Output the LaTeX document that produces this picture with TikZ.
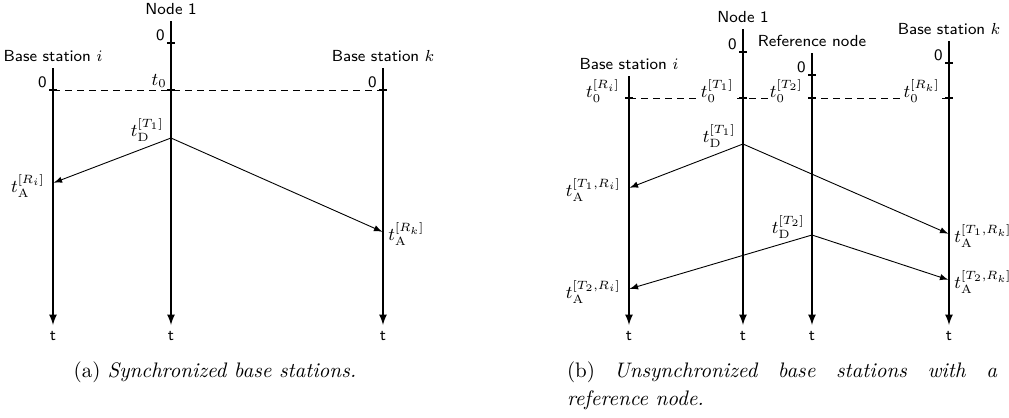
\documentclass[tikz,border=0pt]{standalone}
\usepackage{amsmath}
\usetikzlibrary{arrows,positioning,calc}
\tikzset{
    axis/.style={-latex,line width=0.8pt},
    msg/.style={-latex,line width=0.45pt,shorten >=0.4pt},
    sync/.style={line width=0.5pt,dash pattern=on 3.5pt off 2.5pt},
    tickmark/.style={line width=0.6pt},
    lbl/.style={font=\sffamily\footnotesize,inner sep=1pt},
    mlbl/.style={font=\small,inner sep=1pt},
    synclbl/.style={mlbl,fill=white},
    captxt/.style={font=\fontsize{10.5}{14}\selectfont,inner sep=0pt},
}
\begin{document}
\begin{tikzpicture}[x=0.5pt,y=-0.5pt]
\useasboundingbox (0,0) rectangle (1009,418);

% ---- (a) synchronized base stations
\coordinate (ai) at (53,68);
\coordinate (an) at (171,21);
\coordinate (ak) at (383,68);
\coordinate (ai end) at (53,325);
\coordinate (an end) at (171,325);
\coordinate (ak end) at (383,325);
\coordinate (an zero) at (171,43);
\coordinate (ai sync) at (53,90);
\coordinate (an sync) at (171,90);
\coordinate (ak sync) at (383,90);
\coordinate (ad1) at (171,138);
\coordinate (aai) at (53,183);
\coordinate (aak) at (383,232);

\node[lbl,above=2pt of ai] (ai name) {Base station $i$};
\node[lbl,above=2pt of an] (an name) {Node 1};
\node[lbl,above=2pt of ak] (ak name) {Base station $k$};
\draw[axis] (ai) -- (ai end);
\draw[axis] (an) -- (an end);
\draw[axis] (ak) -- (ak end);
\node[lbl,below=2pt of ai end] (ai t) {t};
\node[lbl,below=2pt of an end] (an t) {t};
\node[lbl,below=2pt of ak end] (ak t) {t};

\draw[sync] (ai sync) -- (ak sync);
\foreach \c in {an zero,ai sync,an sync,ak sync}
    \draw[tickmark] ($(\c)+(-4,0)$) -- ($(\c)+(4,0)$);
\node[lbl,above left=0pt and 2pt of an zero] (an 0) {0};
\node[lbl,above left=0pt and 2pt of ai sync] (ai 0) {0};
\node[lbl,above left=0pt and 2pt of ak sync] (ak 0) {0};
\node[mlbl,above left=0pt and 1pt of an sync] (an t0) {$t_0$};

\draw[msg] (ad1) -- (aai);
\draw[msg] (ad1) -- (aak);
\node[mlbl,left=2.5pt of ad1,yshift=4pt] (ad1 lbl) {$t_{\mathrm{D}}^{[T_1]}$};
\node[mlbl,left=3pt of aai,yshift=-1.5pt] (aai lbl) {$t_{\mathrm{A}}^{[R_i]}$};
\node[mlbl,right=1.5pt of aak,yshift=-1pt] (aak lbl) {$t_{\mathrm{A}}^{[R_k]}$};

\node[captxt] (cap a) at (215,372) {(a) \textit{Synchronized base stations.}};

% ---- (b) unsynchronized base stations, reference node
\coordinate (bi) at (629,76);
\coordinate (bn) at (743,29);
\coordinate (br) at (812,53);
\coordinate (bk) at (949,41);
\coordinate (bi end) at (629,325);
\coordinate (bn end) at (743,325);
\coordinate (br end) at (812,325);
\coordinate (bk end) at (949,325);
\coordinate (bn zero) at (743,52);
\coordinate (br zero) at (812,75);
\coordinate (bk zero) at (949,63);
\coordinate (bi sync) at (629,98);
\coordinate (bn sync) at (743,98);
\coordinate (br sync) at (812,98);
\coordinate (bk sync) at (949,98);
\coordinate (bd1) at (743,144);
\coordinate (bd2) at (812,235);
\coordinate (b1i) at (629,188);
\coordinate (b1k) at (949,234);
\coordinate (b2i) at (629,289);
\coordinate (b2k) at (949,280);

\node[lbl,above=2pt of bi] (bi name) {Base station $i$};
\node[lbl,above=2pt of bn] (bn name) {Node 1};
\node[lbl,above=2pt of br] (br name) {Reference node};
\node[lbl,above=2pt of bk] (bk name) {Base station $k$};
\draw[axis] (bi) -- (bi end);
\draw[axis] (bn) -- (bn end);
\draw[axis] (br) -- (br end);
\draw[axis] (bk) -- (bk end);
\node[lbl,below=2pt of bi end] (bi t) {t};
\node[lbl,below=2pt of bn end] (bn t) {t};
\node[lbl,below=2pt of br end] (br t) {t};
\node[lbl,below=2pt of bk end] (bk t) {t};

\draw[sync] (bi sync) -- (bk sync);
\node[synclbl,left=3.5pt of bi sync,yshift=3.5pt] (bi t0) {$t_0^{[R_i]}$};
\node[synclbl,left=3.5pt of bn sync,yshift=3.5pt] (bn t0) {$t_0^{[T_1]}$};
\node[synclbl,left=3.5pt of br sync,yshift=3.5pt] (br t0) {$t_0^{[T_2]}$};
\node[synclbl,left=3.5pt of bk sync,yshift=3.5pt] (bk t0) {$t_0^{[R_k]}$};
\foreach \c in {bn zero,br zero,bk zero,bi sync,bn sync,br sync,bk sync}
    \draw[tickmark] ($(\c)+(-4,0)$) -- ($(\c)+(4,0)$);
\node[lbl,above left=0pt and 2pt of bn zero] (bn 0) {0};
\node[lbl,above left=0pt and 2pt of br zero] (br 0) {0};
\node[lbl,above left=0pt and 2pt of bk zero] (bk 0) {0};

\draw[msg] (bd1) -- (b1i);
\draw[msg] (bd1) -- (b1k);
\draw[msg] (bd2) -- (b2i);
\draw[msg] (bd2) -- (b2k);
\node[mlbl,left=2.5pt of bd1,yshift=4pt] (bd1 lbl) {$t_{\mathrm{D}}^{[T_1]}$};
\node[mlbl,left=2.5pt of bd2,yshift=4pt] (bd2 lbl) {$t_{\mathrm{D}}^{[T_2]}$};
\node[mlbl,left=3pt of b1i,yshift=-1pt] (b1i lbl) {$t_{\mathrm{A}}^{[T_1,R_i]}$};
\node[mlbl,left=3pt of b2i,yshift=-1.5pt] (b2i lbl) {$t_{\mathrm{A}}^{[T_2,R_i]}$};
\node[mlbl,right=1.5pt of b1k,yshift=-1pt] (b1k lbl) {$t_{\mathrm{A}}^{[T_1,R_k]}$};
\node[mlbl,right=1.5pt of b2k,yshift=-1pt] (b2k lbl) {$t_{\mathrm{A}}^{[T_2,R_k]}$};

\node[captxt,text width=215pt,align=justify] (cap b) at (782,386)
    {\tolerance=10000 (b) \textit{Unsynchronized base stations with a \mbox{reference} node.}};
\end{tikzpicture}
\end{document}
